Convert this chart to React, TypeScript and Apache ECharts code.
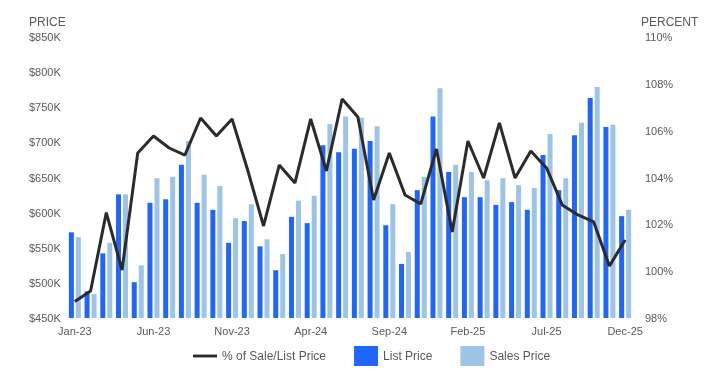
import React, { useEffect, useRef } from "react";
import * as echarts from "echarts";

const months = [
  "Jan-23","Feb-23","Mar-23","Apr-23","May-23","Jun-23","Jul-23","Aug-23","Sep-23","Oct-23","Nov-23","Dec-23",
  "Jan-24","Feb-24","Mar-24","Apr-24","May-24","Jun-24","Jul-24","Aug-24","Sep-24","Oct-24","Nov-24","Dec-24",
  "Jan-25","Feb-25","Mar-25","Apr-25","May-25","Jun-25","Jul-25","Aug-25","Sep-25","Oct-25","Nov-25","Dec-25",
];

// thousands of dollars
const listPrice = [
  572, 488, 542, 626, 501, 614, 619, 668, 614, 604, 557, 588,
  552, 518, 594, 585, 696, 686, 691, 702, 582, 527, 632, 737,
  658, 622, 622, 611, 615, 604, 682, 632, 710, 763, 722, 595,
];
const salesPrice = [
  565, 484, 557, 626, 525, 649, 651, 702, 654, 638, 592, 612,
  562, 541, 617, 624, 726, 737, 735, 723, 612, 544, 651, 777,
  668, 658, 646, 649, 639, 635, 712, 649, 728, 779, 725, 604,
];
// percent
const saleToList = [
  98.7, 99.15, 102.5, 100.05, 105.05, 105.77, 105.26, 104.96, 106.54, 105.77, 106.5, 104.3,
  101.93, 104.53, 103.77, 106.5, 104.28, 107.35, 106.58, 103.04, 105.05, 103.25, 102.87, 105.22,
  101.67, 105.56, 103.98, 106.33, 103.98, 105.13, 104.41, 102.83, 102.4, 102.1, 100.22, 101.33,
];

const textColor = "#595959";
const font = "'Liberation Sans', Arial, sans-serif";

export default function App() {
  const ref = useRef<HTMLDivElement>(null);
  useEffect(() => {
    if (!ref.current) return;
    const chart = echarts.init(ref.current, undefined, { renderer: "svg" });
    chart.setOption({
      animation: false,
      textStyle: { fontFamily: font },
      grid: { left: 67, right: 90, top: 37, bottom: 69, containLabel: false },
      graphic: [
        { type: "text", left: 29, top: 16, style: { text: "PRICE", fill: textColor, font: `12px ${font}` } },
        { type: "text", left: 641, top: 16, style: { text: "PERCENT", fill: textColor, font: `12px ${font}` } },
      ],
      legend: {
        bottom: 16,
        left: 188,
        itemWidth: 24,
        itemHeight: 20,
        itemGap: 28,
        textStyle: { color: textColor, fontSize: 12, fontFamily: font },
        data: [
          { name: "% of Sale/List Price", icon: "path://M0,0 L25,0 L25,3 L0,3 Z", itemStyle: { color: "#2b2b2b" } },
          { name: "List Price", icon: "rect" },
          { name: "Sales Price", icon: "rect" },
        ],
      },
      xAxis: {
        type: "category",
        data: months,
        axisLine: { show: false },
        axisTick: { show: false },
        axisLabel: { interval: 4, color: textColor, fontSize: 11, margin: 7, fontFamily: font },
      },
      yAxis: [
        {
          type: "value",
          min: 450,
          max: 850,
          interval: 50,
          splitLine: { show: false },
          axisLine: { show: false },
          axisTick: { show: false },
          axisLabel: {
            color: textColor,
            fontSize: 11,
            align: "left",
            margin: 38,
            fontFamily: font,
            formatter: (v: number) => `$${v}K`,
          },
        },
        {
          type: "value",
          min: 98,
          max: 110,
          interval: 2,
          splitLine: { show: false },
          axisLine: { show: false },
          axisTick: { show: false },
          axisLabel: {
            color: textColor,
            fontSize: 11,
            margin: 12,
            fontFamily: font,
            formatter: (v: number) => `${v}%`,
          },
        },
      ],
      series: [
        {
          name: "List Price",
          type: "bar",
          data: listPrice,
          barWidth: 5,
          barGap: "40%",
          itemStyle: { color: "#1F66FF" },
        },
        {
          name: "Sales Price",
          type: "bar",
          data: salesPrice,
          barWidth: 5,
          itemStyle: { color: "#9DC3E6" },
        },
        {
          name: "% of Sale/List Price",
          type: "line",
          yAxisIndex: 1,
          data: saleToList,
          symbol: "none",
          lineStyle: { color: "#2b2b2b", width: 3 },
          itemStyle: { color: "#2b2b2b" },
        },
      ],
    });
    return () => chart.dispose();
  }, []);
  return (
    <div
      ref={ref}
      style={{ position: "fixed", left: 0, top: 0, width: 723, height: 387 }}
    />
  );
}
